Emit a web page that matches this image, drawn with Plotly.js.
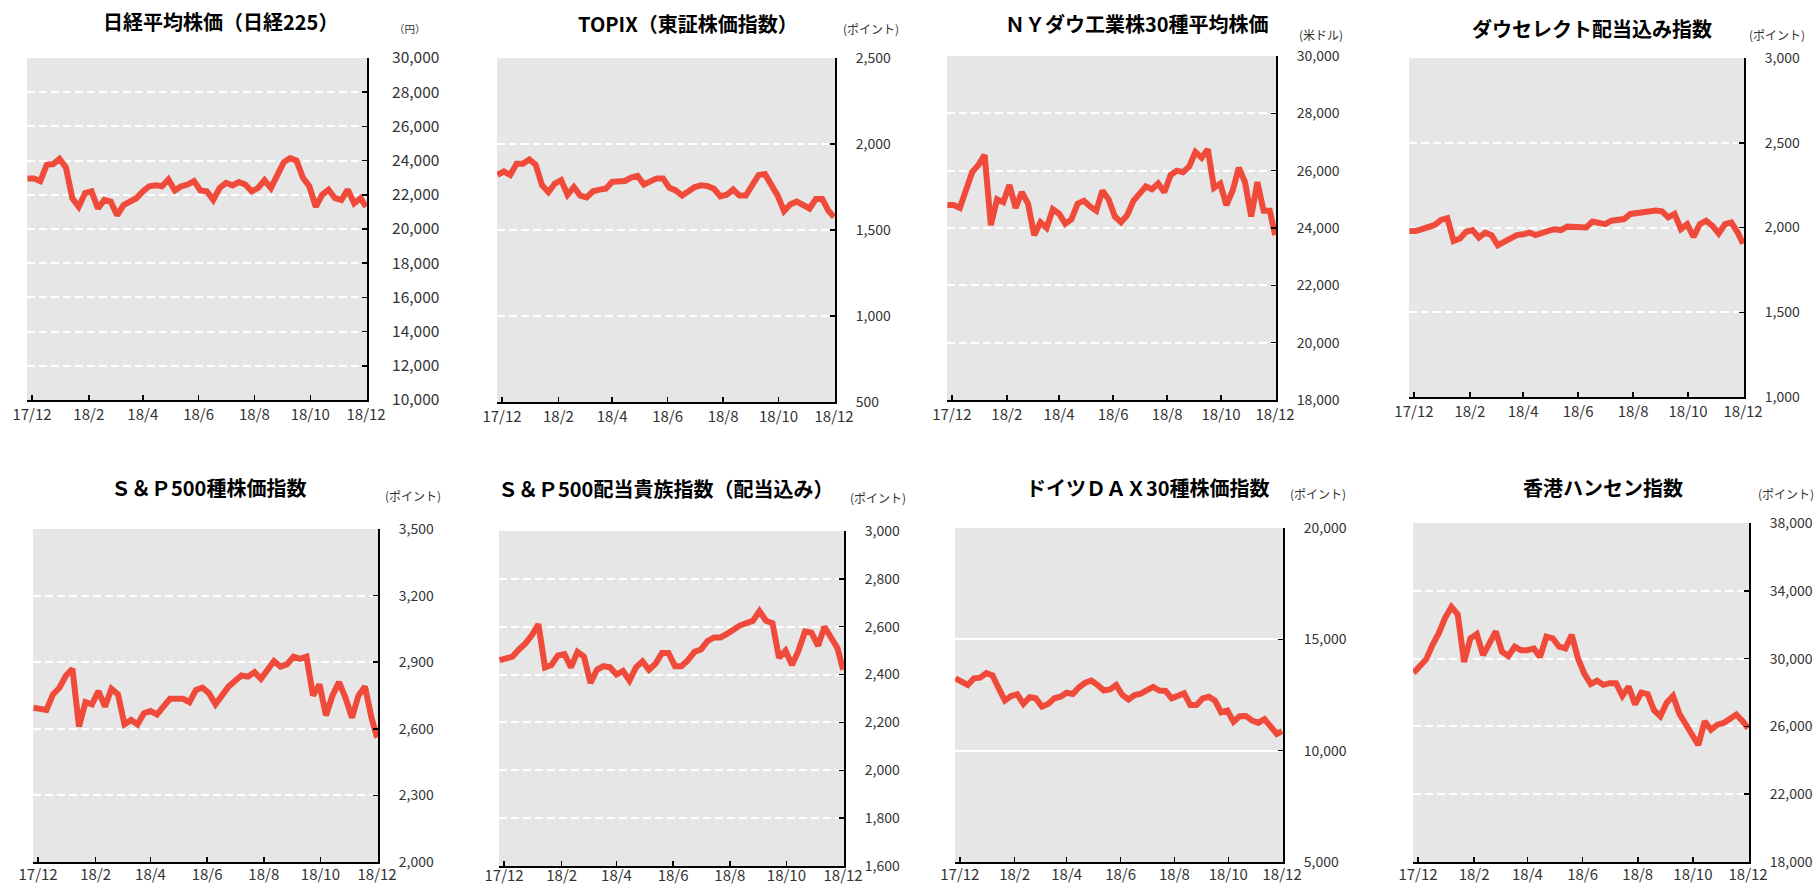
<!DOCTYPE html>
<html>
<head>
<meta charset="utf-8">
<script src="https://cdn.plot.ly/plotly-3.0.1.min.js"></script>
<style>
html,body{margin:0;padding:0;background:#ffffff;}
#chart{width:1815px;height:888px;}
</style>
</head>
<body>
<div id="chart"></div>
<script>
// Weekly observation dates (read along the date axis)
const dates = [
"2017-11-26","2017-12-03","2017-12-10","2017-12-17","2017-12-24","2017-12-31",
"2018-01-07","2018-01-14","2018-01-21","2018-01-28","2018-02-04","2018-02-11",
"2018-02-18","2018-02-25","2018-03-04","2018-03-11","2018-03-18","2018-03-25",
"2018-04-01","2018-04-08","2018-04-15","2018-04-22","2018-04-29","2018-05-06",
"2018-05-13","2018-05-20","2018-05-27","2018-06-03","2018-06-10","2018-06-17",
"2018-06-24","2018-07-01","2018-07-08","2018-07-15","2018-07-22","2018-07-29",
"2018-08-05","2018-08-12","2018-08-19","2018-08-26","2018-09-02","2018-09-09",
"2018-09-16","2018-09-23","2018-09-30","2018-10-07","2018-10-14","2018-10-21",
"2018-10-28","2018-11-04","2018-11-11","2018-11-18","2018-11-25","2018-12-01"
];

const nikkei = [22950,22950,22800,23750,23800,24100,23600,21800,21300,22100,22200,21200,
21700,21600,20800,21400,21600,21800,22200,22500,22550,22500,22900,22250,22500,22600,
22800,22250,22200,21700,22400,22700,22550,22750,22600,22200,22400,22850,22400,23150,
23900,24150,24000,23000,22500,21300,22000,22300,21800,21700,22300,21500,21800,21300];

const topix = [1820,1840,1820,1885,1885,1910,1880,1760,1720,1770,1790,1705,1750,1700,
1690,1725,1735,1740,1780,1785,1785,1805,1815,1765,1780,1800,1800,1745,1730,1700,1725,
1750,1760,1755,1740,1695,1705,1735,1700,1700,1760,1820,1825,1760,1700,1610,1650,1665,
1640,1625,1680,1680,1610,1575];

const nyDow = [24800,24800,24700,25400,25950,26200,26550,24100,25000,24900,25500,24700,
25250,24850,23750,24200,24000,24650,24500,24150,24300,24850,24950,24750,24600,25300,
25000,24400,24200,24450,24950,25200,25450,25350,25550,25250,25850,26000,25950,26150,
26650,26450,26750,25400,25550,24800,25300,26100,25600,24400,25600,24600,24600,23750];

const dowSelect = [1980,1980,1990,2000,2015,2045,2055,1920,1935,1975,1985,1940,1970,
1955,1895,1915,1940,1955,1960,1970,1955,1970,1980,1990,1985,2005,2005,2000,2000,2035,
2025,2020,2040,2045,2050,2080,2085,2085,2090,2100,2095,2060,2080,1990,2020,1945,2020,
2040,2010,1965,2020,2030,1970,1905];

const sp500 = [2695,2690,2685,2755,2785,2840,2870,2610,2720,2710,2770,2700,2780,2755,
2620,2640,2620,2670,2680,2665,2700,2735,2735,2735,2720,2775,2785,2760,2710,2750,2790,
2815,2840,2835,2855,2825,2865,2905,2880,2890,2925,2915,2925,2750,2800,2660,2750,2810,
2740,2650,2750,2790,2650,2560];

const spAristocrats = [2460,2465,2475,2505,2530,2565,2610,2430,2440,2480,2485,2430,
2495,2475,2365,2420,2435,2430,2400,2415,2375,2430,2455,2420,2445,2490,2490,2435,2435,
2460,2495,2505,2540,2555,2555,2570,2590,2605,2615,2625,2665,2625,2615,2470,2500,2440,
2500,2580,2575,2520,2600,2560,2510,2420];

const dax = [13250,13100,12950,13250,13280,13480,13380,12800,12250,12450,12530,12100,
12400,12350,11980,12100,12350,12420,12600,12550,12850,13050,13150,12950,12700,12750,
12950,12500,12300,12500,12560,12720,12860,12700,12680,12350,12440,12580,12050,12050,
12350,12420,12250,11720,11800,11300,11550,11560,11350,11250,11420,11100,10750,10880];

const hangSeng = [29150,29600,29950,30800,31500,32400,33050,32600,29800,31200,31450,
30200,31000,31600,30400,30150,30700,30500,30500,30600,30100,31300,31200,30700,30600,
31400,30000,29100,28500,28700,28450,28550,28550,27800,28350,27300,28000,27900,26950,
26600,27400,27800,26750,26100,25600,24900,26300,25800,26100,26200,26450,26700,26300,25900];

const titles = ["日経平均株価（日経225）","TOPIX（東証株価指数）","ＮＹダウ工業株30種平均株価",
"ダウセレクト配当込み指数","Ｓ＆Ｐ500種株価指数","Ｓ＆Ｐ500配当貴族指数（配当込み）",
"ドイツＤＡＸ30種株価指数","香港ハンセン指数"];
const units = ["（円）","(ポイント)","(米ドル)","(ポイント)","(ポイント)","(ポイント)","(ポイント)","(ポイント)"];
const yMin = [10000,500,18000,1000,2000,1600,5000,18000];
const yMax = [30000,2500,30000,3000,3500,3000,20000,38000];
const yStep = [2000,500,2000,500,300,200,5000,4000];

const series = [nikkei, topix, nyDow, dowSelect, sp500, spAristocrats, dax, hangSeng];

// Layout geometry (pixels): plot box [left, right, top, bottom]
const W = 1815, H = 888;
const boxes = [
  [27,367,58,400],[497,835,58,402],[947,1276,56,400],[1409,1744,58,397],
  [33,378,529,862],[499,844,531,866],[955,1283,528,862],[1413,1749,523,862]
];
const titlePos = [[220,22],[688,24],[1137,23],[1592,28],[208,487],[665,488],[1148,487],[1603,487]];
const unitPos = [[410,29],[871,29],[1321,35],[1777,35],[413,495],[878,497],[1318,493],[1786,493]];
const unitSize = [10.5,12,12,12,12,12,12,12];
const yLabelSize = [15.5,14,14,14,14,14,14,14];
const yLabelShift = [20,16,16,16,16,16,16,16];
const xLabelShift = [0,0,0,0,-2,-5,-2,-2];

const FONT = "'Noto Sans CJK JP', 'Noto Sans', sans-serif";
const data = [];
const layout = {
  width: W, height: H,
  margin: {l:0, r:0, t:0, b:0},
  paper_bgcolor: '#ffffff',
  plot_bgcolor: '#e6e6e6',
  showlegend: false,
  font: {family: FONT, color: '#333333'},
  annotations: []
};

for (let i = 0; i < 8; i++) {
  const n = i === 0 ? '' : String(i + 1);
  const b = boxes[i];
  data.push({
    x: dates, y: series[i],
    xaxis: 'x' + n, yaxis: 'y' + n,
    type: 'scatter', mode: 'lines',
    line: {color: '#f04b3a', width: 6},
    hoverinfo: 'skip'
  });
  layout['xaxis' + n] = {
    domain: [b[0] / W, b[1] / W],
    anchor: 'y' + n,
    type: 'date',
    range: ['2017-11-25 12:00', '2018-12-02'],
    tick0: '2017-12-01', dtick: 'M2', tickformat: '%y/%-m',
    ticks: 'inside', ticklen: 5, tickwidth: 1.5, tickcolor: '#000',
    showline: true, linecolor: '#000', linewidth: 2,
    showgrid: false, zeroline: false, tickangle: 0,
    ticklabelstandoff: xLabelShift[i],
    tickfont: {family: FONT, size: 15, color: '#333333'},
    fixedrange: true
  };
  layout['yaxis' + n] = {
    domain: [1 - b[3] / H, 1 - b[2] / H],
    anchor: 'x' + n,
    side: 'right',
    range: [yMin[i], yMax[i]],
    tick0: yMin[i], dtick: yStep[i], tickformat: ',d',
    ticks: 'inside', ticklen: 5, tickwidth: 1.5, tickcolor: '#000',
    showline: true, linecolor: '#000', linewidth: 2,
    showgrid: true, gridcolor: '#ffffff', gridwidth: 2,
    griddash: i === 6 ? 'solid' : '8px,4px',
    zeroline: false,
    ticklabelstandoff: yLabelShift[i],
    tickfont: {family: FONT, size: yLabelSize[i], color: '#333333'},
    fixedrange: true
  };
  layout.annotations.push({
    xref: 'paper', yref: 'paper',
    x: titlePos[i][0] / W, y: 1 - titlePos[i][1] / H,
    xanchor: 'center', yanchor: 'middle',
    text: '<b>' + titles[i] + '</b>', showarrow: false,
    font: {family: FONT, size: 20, color: '#000000'}
  });
  layout.annotations.push({
    xref: 'paper', yref: 'paper',
    x: unitPos[i][0] / W, y: 1 - unitPos[i][1] / H,
    xanchor: 'center', yanchor: 'middle',
    text: units[i], showarrow: false,
    font: {family: FONT, size: unitSize[i], color: '#333333'}
  });
}

Plotly.newPlot('chart', data, layout, {displayModeBar: false, staticPlot: true});
</script>
</body>
</html>
